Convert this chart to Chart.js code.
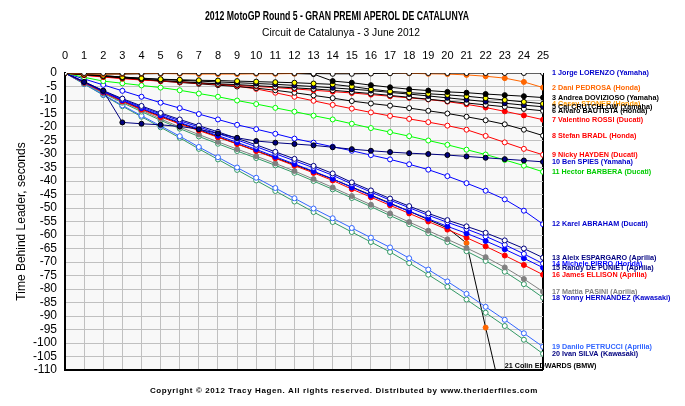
<!DOCTYPE html>
<html>
<head>
<meta charset="utf-8">
<script src="https://cdn.jsdelivr.net/npm/chart.js@4.4.1/dist/chart.umd.min.js"></script>
<style>
  html, body { margin: 0; padding: 0; background: #fff; }
</style>
</head>
<body>
<canvas id="chart" width="685" height="406"></canvas>
<script>
// lap numbers (x axis)
const laps = [0,1,2,3,4,5,6,7,8,9,10,11,12,13,14,15,16,17,18,19,20,21,22,23,24,25];

// rider labels, in finishing order
const riders = [
    '1 Jorge LORENZO (Yamaha)',
    '2 Dani PEDROSA (Honda)',
    '3 Andrea DOVIZIOSO (Yamaha)',
    '4 Casey STONER (Honda)',
    '5 Cal CRUTCHLOW (Yamaha)',
    '6 Alvaro BAUTISTA (Honda)',
    '7 Valentino ROSSI (Ducati)',
    '8 Stefan BRADL (Honda)',
    '9 Nicky HAYDEN (Ducati)',
    '10 Ben SPIES (Yamaha)',
    '11 Hector BARBERA (Ducati)',
    '12 Karel ABRAHAM (Ducati)',
    '13 Aleix ESPARGARO (Aprilia)',
    '14 Michele PIRRO (Honda)',
    '15 Randy DE PUNIET (Aprilia)',
    '16 James ELLISON (Aprilia)',
    '17 Mattia PASINI (Aprilia)',
    '18 Yonny HERNANDEZ (Kawasaki)',
    '19 Danilo PETRUCCI (Aprilia)',
    '20 Ivan SILVA (Kawasaki)',
    '21 Colin EDWARDS (BMW)',
];

// time behind leader, seconds, per lap
const lorenzo   = [0,0,0,0,0,0,0,0,0,0,0,0,0,-0.2,-0.3,-0.3,-0.2,-0.1,0,0,0,0,0,0,0,0];
const pedrosa   = [0,-0.3,-0.4,-0.3,-0.2,-0.2,-0.3,-0.4,-0.4,-0.4,-0.3,-0.3,-0.2,0,0,0,0,0,-0.1,-0.3,-0.4,-0.7,-1.2,-1.9,-3.3,-5.4];
const dovizioso = [0,-0.3,-0.4,-0.4,-0.3,-0.2,-0.1,0,0,0,0,0,-0.2,-0.4,-3.0,-3.6,-4.5,-5.3,-6.0,-6.5,-7.0,-7.3,-7.8,-8.2,-8.6,-9.1];
const stoner    = [0,-0.5,-1.0,-1.5,-1.9,-2.3,-2.5,-2.7,-2.8,-3.0,-3.2,-3.4,-3.6,-3.9,-4.2,-5.0,-6.0,-6.8,-7.3,-7.7,-8.1,-8.6,-9.3,-10.0,-10.7,-11.4];
const crutchlow = [0,-0.5,-1.0,-1.5,-2.0,-2.4,-2.7,-3.0,-3.3,-3.6,-3.9,-4.2,-4.6,-5.0,-5.5,-6.0,-6.5,-7.2,-7.8,-8.5,-9.2,-9.9,-10.6,-11.2,-11.9,-12.5];
const bautista  = [0,-0.6,-1.2,-1.8,-2.3,-2.8,-3.2,-3.6,-4.0,-4.3,-4.7,-5.1,-5.5,-5.9,-6.4,-7.0,-7.6,-8.3,-9.0,-9.7,-10.4,-11.1,-11.8,-12.5,-13.3,-14.0];
const rossi     = [0,-0.8,-1.5,-2.1,-2.6,-3.0,-3.4,-3.8,-4.2,-4.6,-5.0,-5.4,-5.9,-6.4,-6.9,-7.4,-8.0,-8.6,-9.2,-9.8,-10.6,-11.6,-12.8,-14.2,-15.7,-17.3];
const bradl     = [0,-0.6,-1.2,-1.8,-2.4,-3.0,-3.5,-4.0,-4.5,-5.0,-5.6,-6.4,-7.3,-8.3,-9.3,-10.4,-11.3,-12.1,-13.0,-14.0,-15.0,-16.2,-17.5,-19.0,-21.0,-23.2];
const hayden    = [0,-0.8,-1.4,-1.9,-2.4,-2.9,-3.3,-3.7,-4.2,-4.9,-5.9,-7.3,-8.8,-10.3,-11.8,-13.2,-14.6,-15.9,-17.0,-18.2,-19.5,-21.0,-23.3,-25.7,-28.1,-30.3];
const spies     = [0,-3.3,-6.6,-18.3,-18.8,-19.2,-19.8,-20.8,-22.4,-24.0,-25.2,-25.8,-26.3,-26.8,-27.5,-28.2,-28.8,-29.3,-29.7,-30.0,-30.4,-30.9,-31.4,-31.9,-32.4,-32.9];
const barbera   = [0,-1.6,-3.0,-3.8,-4.6,-5.4,-6.4,-7.6,-8.8,-10.2,-11.5,-12.9,-14.3,-15.8,-17.2,-18.8,-20.4,-21.9,-23.4,-25.0,-26.6,-28.4,-30.2,-32.2,-34.3,-36.6];
const abraham   = [0,-2.2,-4.4,-6.6,-8.8,-11.0,-13.0,-15.2,-17.2,-19.2,-20.8,-22.5,-24.3,-25.8,-27.3,-28.8,-30.4,-32.0,-33.8,-35.8,-38.2,-40.8,-43.6,-46.8,-51.0,-56.0];
const espargaro = [0,-3.2,-6.5,-9.5,-12.2,-14.8,-17.2,-19.5,-21.8,-24.2,-26.6,-29.2,-31.8,-34.4,-37.2,-40.5,-43.5,-46.5,-49.3,-52.0,-54.5,-56.8,-59.2,-62.0,-65.0,-68.4];
const pirro     = [0,-3.3,-6.7,-9.8,-12.6,-15.2,-17.7,-20.0,-22.4,-24.8,-27.3,-29.9,-32.5,-35.1,-37.9,-41.1,-44.1,-47.1,-49.9,-52.7,-55.3,-57.8,-60.5,-63.6,-67.0,-70.6];
const depuniet  = [0,-3.4,-6.9,-10.1,-13.0,-15.7,-18.3,-20.7,-23.2,-25.7,-28.3,-31.0,-33.7,-36.4,-39.2,-42.4,-45.4,-48.4,-51.2,-54.0,-56.8,-59.4,-62.2,-65.3,-68.6,-72.1];
const ellison   = [0,-3.6,-7.2,-10.5,-13.5,-16.3,-18.9,-21.3,-23.8,-26.3,-28.9,-31.6,-34.3,-37.0,-39.8,-43.0,-46.0,-49.0,-52.0,-55.0,-58.0,-61.0,-64.2,-67.6,-71.1,-74.7];
const pasini    = [0,-3.6,-7.2,-10.6,-13.8,-17.0,-20.0,-22.8,-25.5,-28.2,-30.8,-33.5,-36.3,-39.3,-42.4,-45.6,-48.8,-52.0,-55.2,-58.4,-61.6,-64.8,-68.2,-72.0,-76.3,-81.0];
const hernandez = [0,-3.8,-7.5,-11.0,-14.3,-17.5,-20.6,-23.5,-26.2,-28.9,-31.5,-34.2,-37.0,-40.0,-43.1,-46.3,-49.5,-52.8,-56.0,-59.3,-62.6,-66.0,-69.6,-73.6,-78.2,-83.2];
const petrucci  = [0,-4.0,-8.0,-12.0,-15.8,-19.6,-23.4,-27.4,-31.2,-35.0,-38.8,-42.6,-46.4,-50.2,-53.8,-57.4,-61.0,-64.6,-68.6,-72.8,-77.2,-81.8,-86.6,-91.4,-96.4,-101.4];
const silva     = [0,-4.1,-8.2,-12.3,-16.2,-20.1,-24.0,-28.1,-32.0,-35.9,-39.8,-43.7,-47.6,-51.5,-55.2,-58.9,-62.6,-66.3,-70.4,-74.7,-79.2,-83.9,-88.8,-93.7,-98.8,-104.0];
const edwards   = [0,-3.5,-7.0,-10.3,-13.3,-16.0,-18.6,-21.0,-23.6,-26.2,-28.8,-31.4,-34.0,-36.6,-39.3,-42.2,-45.2,-48.2,-51.2,-54.3,-57.4,-63.0,-94.3,-125,null,null];

// y axis ticks
const yTicks = [0,-5,-10,-15,-20,-25,-30,-35,-40,-45,-50,-55,-60,-65,-70,-75,-80,-85,-90,-95,-100,-105,-110];

const series = [lorenzo, pedrosa, dovizioso, stoner, crutchlow, bautista, rossi, bradl, hayden, spies,
    barbera, abraham, espargaro, pirro, depuniet, ellison, pasini, hernandez, petrucci, silva, edwards];

// [line colour, marker fill ('' = open), marker border]
const styles = [
    ['#000000', '',        '#000000'],
    ['#FF6600', '#FF6600', '#FF6600'],
    ['#000000', '#000000', '#000000'],
    ['#000000', '#FFFF00', '#000000'],
    ['#000000', '#000080', '#000000'],
    ['#000000', '',        '#000000'],
    ['#FF0000', '#FF0000', '#FF0000'],
    ['#000000', '',        '#000000'],
    ['#FF0000', '',        '#FF0000'],
    ['#000080', '#000080', '#000000'],
    ['#00FF00', '',        '#00FF00'],
    ['#0000FF', '',        '#0000FF'],
    ['#000080', '',        '#000080'],
    ['#0000FF', '',        '#0000FF'],
    ['#0000FF', '#0000FF', '#0000FF'],
    ['#FF0000', '#FF0000', '#FF0000'],
    ['#808080', '#808080', '#808080'],
    ['#339966', '',        '#339966'],
    ['#3366FF', '',        '#3366FF'],
    ['#339966', '',        '#339966'],
    ['#000000', '#FF6600', '#FF6600'],
];
const labelColors = ['#0000CC','#FF6600','#000000','#FF9900','#000000','#000000','#FF0000','#FF0000','#FF0000','#0000CC',
    '#00CC00','#0000CC','#000080','#0000FF','#000080','#FF0000','#808080','#0000CC','#3366FF','#000080','#000000'];

const datasets = series.map((vals, i) => ({
    label: riders[i],
    data: vals.map((v, k) => ({ x: laps[k], y: v })),
    borderColor: styles[i][0],
    borderWidth: 1,
    pointRadius: 2.5,
    pointBackgroundColor: styles[i][1] || '#FFFFFF',
    pointBorderColor: styles[i][2],
    pointBorderWidth: 1,
    fill: false,
}));

const plotBg = {
    id: 'plotBg',
    beforeDraw(chart) {
        const { ctx, chartArea: a } = chart;
        ctx.save();
        ctx.fillStyle = '#F8F8F8';
        ctx.fillRect(a.left, a.top, a.right - a.left, a.bottom - a.top);
        ctx.restore();
    }
};

const texts = {
    id: 'texts',
    afterDraw(chart) {
        const { ctx, chartArea: a, scales } = chart;
        ctx.save();
        ctx.textAlign = 'center';
        ctx.textBaseline = 'middle';
        ctx.fillStyle = '#000';
        ctx.font = "bold 12px 'Liberation Sans', sans-serif";
        ctx.fillText('2012 MotoGP Round 5 - GRAN PREMI APEROL DE CATALUNYA', 337, 17, 264);
        ctx.font = "11px 'Liberation Sans', sans-serif";
        ctx.fillText('Circuit de Catalunya - 3 June 2012', 341, 33, 158);
        ctx.font = "bold 8px 'Liberation Sans', sans-serif";
        ctx.letterSpacing = '0.6px';
        ctx.fillText('Copyright \u00A9 2012 Tracy Hagen. All rights reserved. Distributed by www.theriderfiles.com', 344, 391, 394);
        ctx.letterSpacing = '0px';

        // rider labels at the end of each line
        ctx.textAlign = 'left';
        ctx.font = "bold 8px 'Liberation Sans', sans-serif";
        series.forEach((vals, i) => {
            let last = vals.length - 1;
            while (last > 0 && vals[last] === null) last--;
            const w = ctx.measureText(riders[i]).width * 0.9;
            ctx.fillStyle = labelColors[i];
            if (last === laps.length - 1) {
                ctx.fillText(riders[i], a.right + 9, scales.y.getPixelForValue(vals[last]), w);
            } else {
                ctx.fillText(riders[i], scales.x.getPixelForValue(laps[last]), a.bottom - 4, w);
            }
        });
        ctx.restore();
    }
};

new Chart(document.getElementById('chart'), {
    type: 'line',
    data: { datasets: datasets },
    options: {
        responsive: false,
        animation: false,
        devicePixelRatio: 1,
        layout: { padding: { left: 0, right: 142, top: 0, bottom: 36 } },
        plugins: {
            legend: { display: false },
            tooltip: { enabled: false },
        },
        scales: {
            x: {
                type: 'linear',
                position: 'top',
                min: 0,
                max: 25,
                afterFit: s => { s.height = 73; },
                ticks: {
                    stepSize: 1,
                    autoSkip: false,
                    maxRotation: 0,
                    color: '#000',
                    padding: 10,
                    font: { family: "'Liberation Sans', sans-serif", size: 11 },
                },
                grid: {
                    drawTicks: false,
                    color: c => c.tick.value === 25 ? '#000000' : '#C0C0C0',
                    lineWidth: c => c.tick.value === 25 ? 2 : 1,
                },
                border: { display: false },
            },
            y: {
                min: -110,
                max: 0,
                afterFit: s => { s.width = 65; },
                afterBuildTicks: s => { s.ticks = yTicks.map(v => ({ value: v })); },
                ticks: {
                    autoSkip: false,
                    color: '#000',
                    padding: 8,
                    font: { family: "'Liberation Sans', sans-serif", size: 12 },
                },
                grid: {
                    drawTicks: false,
                    color: c => c.tick.value === -110 ? '#000000' : '#C0C0C0',
                    lineWidth: c => c.tick.value === -110 ? 2 : 1,
                },
                border: { color: '#000', width: 2 },
                title: {
                    display: true,
                    text: 'Time Behind Leader, seconds',
                    color: '#000',
                    font: { family: "'Liberation Sans', sans-serif", size: 12 },
                    padding: { top: 14, bottom: 0 },
                },
            },
        },
    },
    plugins: [plotBg, texts],
});
</script>
</body>
</html>
